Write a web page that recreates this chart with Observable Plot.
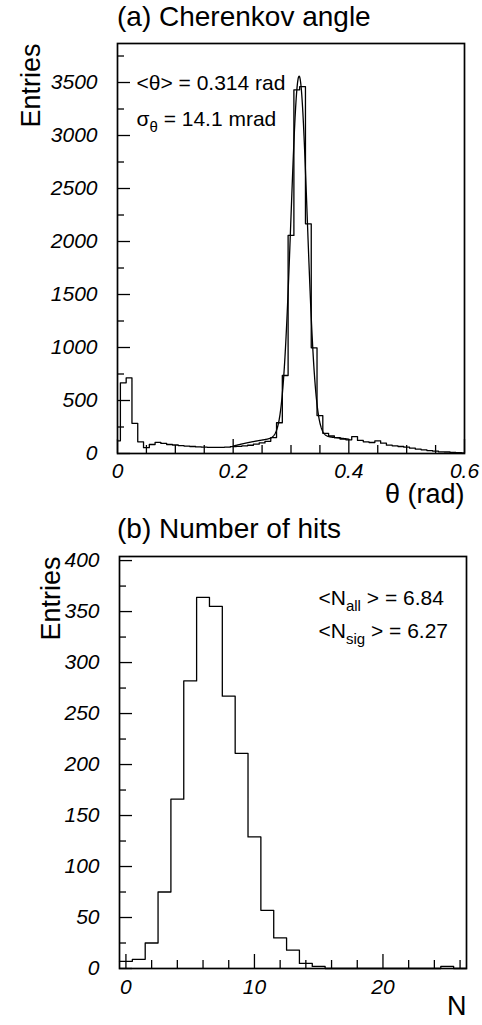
<!DOCTYPE html>
<html>
<head>
<meta charset="utf-8">
<script src="https://cdn.jsdelivr.net/npm/d3@7"></script>
<script src="https://cdn.jsdelivr.net/npm/@observablehq/plot@0.6"></script>
<style>
  html, body { margin: 0; padding: 0; background: #fff; }
  #wrap { width: 482px; height: 1025px; position: relative; overflow: hidden;
          font-family: "Liberation Sans", Arial, Helvetica, sans-serif; color: #000; }
  .title { position: relative; height: 36px; }
  .title span { position: absolute; left: 117px; top: 3px; font-size: 28px; line-height: 1; white-space: nowrap; }
  svg g[aria-label="y-axis tick label"] text, svg g[aria-label="x-axis tick label"] text { font-style: italic; }
</style>
</head>
<body>
<div id="wrap">
  <div class="title"><span>(a) Cherenkov angle</span></div>
  <div id="pa"></div>
  <div class="title"><span>(b) Number of hits</span></div>
  <div id="pb"></div>
</div>
<script>
// ---------- data: (a) Cherenkov angle histogram ----------
// bins: [0,0.005], then width 0.01 from 0.005 to 0.595, then [0.595,0.6]
const thetaValues = [
  120, 667, 714, 285, 110, 55, 85, 105, 95, 85,
  80, 75, 70, 66, 62, 60, 58, 57, 58, 60,
  64, 68, 72, 78, 88, 100, 115, 150, 290, 736,
  2057, 3431, 3462, 2167, 997, 358, 190, 165, 150, 135,
  129, 160, 123, 110, 104, 120, 97, 79, 72, 66,
  60, 50, 41, 35, 28, 22, 16, 14, 10, 7,
  5
];
// fit parameters (gaussian + quadratic background), range 0.2-0.4
const fitMean = 0.314;
const fitSigma = 0.0141;
const fitAmp = 3400;
const fitBg = [160, 174, -5400];   // c0, c1, c2 in (x - mean)
const fitRange = [0.2, 0.4];

const thetaYMajor = [0, 500, 1000, 1500, 2000, 2500, 3000, 3500];
const thetaYMinor = [250, 750, 1250, 1750, 2250, 2750, 3250, 3750];
const thetaXMajor = [0, 0.2, 0.4, 0.6];
const thetaXMinor = [0.05, 0.1, 0.15, 0.25, 0.3, 0.35, 0.45, 0.5, 0.55];

// ---------- data: (b) Number of hits histogram ----------
// bins centred on N = 0..26
const hitsValues = [
  7, 9, 25, 75, 166, 282, 364, 355, 267, 211,
  129, 57, 30, 18, 5, 2, 0, 0, 0, 0,
  0, 0, 0, 0, 0, 2, 0
];
const hitsYMajor = [0, 50, 100, 150, 200, 250, 300, 350, 400];
const hitsYMinor = [25, 75, 125, 175, 225, 275, 325, 375];
const hitsXMajor = [0, 10, 20];
const hitsXMinor = [2, 4, 6, 8, 12, 14, 16, 18, 22, 24, 26];

// ---------- build tables ----------
const thetaEdges = [0, ...d3.range(60).map(k => +(0.005 + 0.01 * k).toFixed(3)), 0.6];
const thetaStep = thetaValues.map((v, i) => ({x: thetaEdges[i], y: v}));
thetaStep.push({x: thetaEdges[thetaValues.length], y: thetaValues[thetaValues.length - 1]});

const fitPts = d3.range(fitRange[0], fitRange[1] + 1e-9, 0.0005).map(x => {
  const u = x - fitMean;
  const g = fitAmp * Math.exp(-u * u / (2 * fitSigma * fitSigma));
  const b = fitBg[0] + fitBg[1] * u + fitBg[2] * u * u;
  return {x, y: g + b};
});

const hitsStep = hitsValues.map((v, i) => ({x: i - 0.5, y: v}));
hitsStep.push({x: hitsValues.length - 0.5, y: hitsValues[hitsValues.length - 1]});

const FONT = '"Liberation Sans", Arial, Helvetica, sans-serif';

function panel(o) {
  const innerW = o.width - o.ml - o.mr;
  const innerH = o.height - o.mt - o.mb;
  return Plot.plot({
    width: o.width, height: o.height,
    marginLeft: o.ml, marginRight: o.mr, marginTop: o.mt, marginBottom: o.mb,
    style: {fontFamily: FONT, fontSize: "21px", background: "#fff", overflow: "visible", color: "#000"},
    x: {domain: o.xDomain},
    y: {domain: o.yDomain},
    marks: [
      Plot.axisY({ticks: o.yMajor, tickSize: 0, tickPadding: 20, tickFormat: d => String(d),
                  label: null, fontSize: 21, fontStyle: "italic"}),
      Plot.axisX({ticks: o.xMajor, tickSize: 0, tickPadding: o.xPad, tickFormat: d => String(d),
                  label: null, fontSize: 21, fontStyle: "italic"}),
      Plot.tickY(o.yMajor, {y: d => d, insetRight: innerW - 13, stroke: "#000", strokeWidth: 1.3}),
      Plot.tickY(o.yMinor, {y: d => d, insetRight: innerW - 7, stroke: "#000", strokeWidth: 1.3}),
      Plot.tickX(o.xMajor, {x: d => d, insetTop: innerH - 14, stroke: "#000", strokeWidth: 1.3}),
      Plot.tickX(o.xMinor, {x: d => d, insetTop: innerH - 8, stroke: "#000", strokeWidth: 1.3}),
      ...o.marks,
      Plot.frame({stroke: "#000", strokeWidth: 1.7}),
      Plot.text(["Entries"], {text: d => d, frameAnchor: "top-left", rotate: -90, textAnchor: "end",
                              dx: o.entriesDx, fontSize: 27, fill: "#000"}),
      Plot.text([o.xLabel], {text: d => d, frameAnchor: "bottom-right", textAnchor: "end",
                             dy: o.xLabelDy, dx: 0, fontSize: 27, fill: "#000"}),
      ...o.notes.map(t => Plot.text([t.plain], {text: d => d, frameAnchor: "top-left", textAnchor: "start",
                             dx: t.dx, dy: t.dy, fontSize: 21, fill: "#000"}))
    ]
  });
}

function finish(svg, notes) {
  svg.querySelectorAll('g[aria-label="y-axis tick label"], g[aria-label="x-axis tick label"]')
     .forEach(g => { g.setAttribute("font-style", "italic"); g.querySelectorAll("text").forEach(t => t.setAttribute("font-style", "italic")); });
  const ns = "http://www.w3.org/2000/svg";
  notes.forEach(t => {
    if (!t.parts) return;
    const el = Array.from(svg.querySelectorAll("text")).find(e => e.textContent === t.plain);
    if (!el) return;
    el.textContent = "";
    const a = document.createElementNS(ns, "tspan"); a.textContent = t.parts[0]; el.appendChild(a);
    const b = document.createElementNS(ns, "tspan"); b.textContent = t.parts[1];
    b.setAttribute("font-size", "15"); b.setAttribute("dy", "6"); el.appendChild(b);
    const c = document.createElementNS(ns, "tspan"); c.textContent = t.parts[2];
    c.setAttribute("dy", "-6"); el.appendChild(c);
  });
}

const notesA = [
  {plain: "<θ> = 0.314 rad", dx: 19, dy: 32},
  {plain: "σθ = 14.1 mrad", parts: ["σ", "θ", " = 14.1 mrad"], dx: 19, dy: 68}
];
const svgA = panel({
  width: 482, height: 476, ml: 117, mr: 18, mt: 7, mb: 59,
  xDomain: [0, 0.6], yDomain: [0, 3868],
  yMajor: thetaYMajor, yMinor: thetaYMinor, xMajor: thetaXMajor, xMinor: thetaXMinor,
  xPad: 10, entriesDx: -97, xLabel: "θ (rad)", xLabelDy: 49,
  notes: notesA,
  marks: [
    Plot.line(thetaStep, {x: "x", y: "y", curve: "step-after", stroke: "#000", strokeWidth: 1.3}),
    Plot.line(fitPts, {x: "x", y: "y", stroke: "#000", strokeWidth: 1.3})
  ]
});
finish(svgA, notesA);
document.getElementById("pa").appendChild(svgA);

const notesB = [
  {plain: "<Nall > = 6.84", parts: ["<N", "all", " > = 6.84"], dx: 199, dy: 34},
  {plain: "<Nsig > = 6.27", parts: ["<N", "sig", " > = 6.27"], dx: 199, dy: 67}
];
const svgB = panel({
  width: 482, height: 477, ml: 119, mr: 16, mt: 8, mb: 57,
  xDomain: [-0.5, 26.5], yDomain: [0, 404],
  yMajor: hitsYMajor, yMinor: hitsYMinor, xMajor: hitsXMajor, xMinor: hitsXMinor,
  xPad: 11, entriesDx: -79, xLabel: "N", xLabelDy: 46,
  notes: notesB,
  marks: [
    Plot.line(hitsStep, {x: "x", y: "y", curve: "step-after", stroke: "#000", strokeWidth: 1.3})
  ]
});
finish(svgB, notesB);
document.getElementById("pb").appendChild(svgB);
</script>
</body>
</html>
